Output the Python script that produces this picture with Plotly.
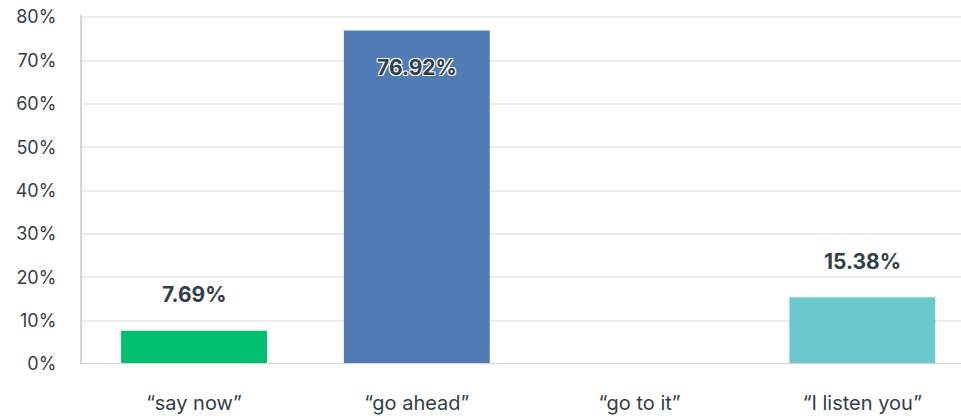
import plotly.graph_objects as go

categories = ["\u201csay now\u201d", "\u201cgo ahead\u201d", "\u201cgo to it\u201d", "\u201cI listen you\u201d"]
values = [7.69, 76.92, 0.0, 15.38]
colors = ["#00bf6f", "#507cb6", "#507cb6", "#6bc8cd"]
label_text = ["7.69%", "76.92%", None, "15.38%"]
label_inside = [False, True, False, False]
tick_vals = [0, 10, 20, 30, 40, 50, 60, 70, 80]
tick_text = ["0%", "10%", "20%", "30%", "40%", "50%", "60%", "70%", "80%"]

FONT = "Inter, Roboto, sans-serif"
TXT = "#333e48"

fig = go.Figure()
fig.add_trace(go.Bar(
    x=categories, y=values, marker=dict(color=colors, line=dict(width=0)),
    width=0.655, hoverinfo="skip",
))

annotations = []
for c, v, t, inside in zip(categories, values, label_text, label_inside):
    if t is None:
        continue
    annotations.append(dict(
        x=c, y=v, xref="x", yref="y", text="<b>%s</b>" % t, showarrow=False,
        yanchor="middle", yshift=-37 if inside else 36,
        font=dict(family=FONT, size=21, color=TXT,
                  shadow="1px 1px 0 #fff, -1px -1px 0 #fff, 1px -1px 0 #fff, -1px 1px 0 #fff" if inside else "none"),
    ))

fig.update_layout(
    width=961, height=416,
    margin=dict(l=82, r=0, t=15, b=52, autoexpand=False),
    paper_bgcolor="white", plot_bgcolor="white",
    showlegend=False,
    annotations=annotations,
    font=dict(family=FONT, size=18, color=TXT),
    xaxis=dict(
        range=[-0.503, 3.443], showgrid=False, showline=False, zeroline=False,
        ticks="", tickfont=dict(family=FONT, size=20, color=TXT),
        ticklabelstandoff=25,
    ),
    yaxis=dict(
        range=[0, 80.5], tickvals=tick_vals, ticktext=tick_text,
        showgrid=True, gridcolor="#ebebeb", gridwidth=2,
        showline=True, linecolor="#d5d5d5", linewidth=2,
        zeroline=False, ticks="", ticklabelstandoff=20,
        ticklabeloverflow="allow",
        tickfont=dict(family=FONT, size=18, color=TXT),
    ),
    shapes=[dict(type="line", xref="paper", yref="y", x0=0, x1=1, y0=0, y1=0,
                 line=dict(color="#d5d5d5", width=2))],
)

fig.write_html("out.html", config={"displayModeBar": False},
               post_script="document.body.style.margin='0';")
